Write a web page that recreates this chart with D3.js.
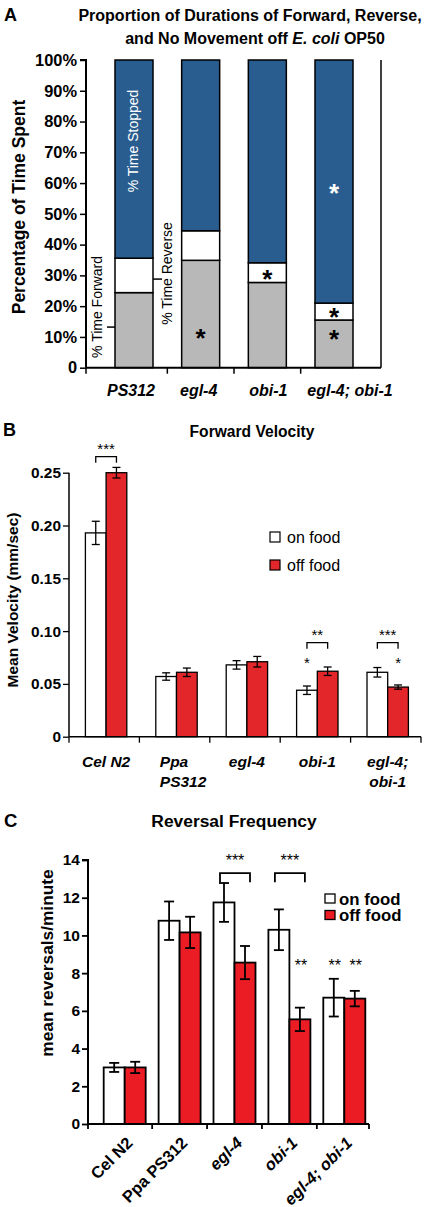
<!DOCTYPE html>
<html><head><meta charset="utf-8">
<script src="https://cdn.jsdelivr.net/npm/d3@7"></script>
<style>body{margin:0;background:#fff} svg{display:block} text{font-family:"Liberation Sans",Arial,sans-serif}</style>
</head><body><svg id="c" width="428" height="1207"></svg>
<script>
// ---------- Panel A data ----------
const strainsA = ["PS312", "egl-4", "obi-1", "egl-4; obi-1"];
const forwardPct = [24.4, 34.9, 27.7, 15.5];
const reversePct = [11.2, 9.6, 6.4, 5.5];
const stoppedPct = [64.4, 55.5, 65.9, 79.0];
const ticksA = [0, 10, 20, 30, 40, 50, 60, 70, 80, 90, 100];
const sigA = [
  {strain: "egl-4", pct: 11.7, light: false},
  {strain: "obi-1", pct: 30.9, light: false},
  {strain: "egl-4; obi-1", pct: 18.4, light: false},
  {strain: "egl-4; obi-1", pct: 11.2, light: false},
  {strain: "egl-4; obi-1", pct: 58.8, light: true}
];

// ---------- Panel B data ----------
const strainsB = ["Cel N2", "Ppa PS312", "egl-4", "obi-1", "egl-4; obi-1"];
const labelLinesB = [["Cel N2"], ["Ppa", "PS312"], ["egl-4"], ["obi-1"], ["egl-4;", "obi-1"]];
const velOn = [0.193, 0.057, 0.068, 0.044, 0.061];
const velOnErr = [0.011, 0.0035, 0.004, 0.004, 0.0045];
const velOff = [0.250, 0.061, 0.071, 0.062, 0.047];
const velOffErr = [0.005, 0.004, 0.005, 0.004, 0.002];
const ticksB = [0, 0.05, 0.10, 0.15, 0.20, 0.25];
const tickLabelsB = ["0", "0.05", "0.10", "0.15", "0.20", "0.25"];
const bracketsB = [
  {strain: "Cel N2", y: 0.2652, label: "***"},
  {strain: "obi-1", y: 0.089, label: "**"},
  {strain: "egl-4; obi-1", y: 0.089, label: "***"}
];
const starsB = [
  {strain: "obi-1", cond: "on", y: 0.0736, label: "*"},
  {strain: "egl-4; obi-1", cond: "off", y: 0.0736, label: "*"}
];

// ---------- Panel C data ----------
const strainsC = ["Cel N2", "Ppa PS312", "egl-4", "obi-1", "egl-4; obi-1"];
const italicC = [false, false, true, true, true];
const revOn = [3.0, 10.78, 11.75, 10.3, 6.7];
const revOnErr = [0.24, 1.02, 1.03, 1.08, 1.0];
const revOff = [3.0, 10.16, 8.56, 5.55, 6.65];
const revOffErr = [0.3, 0.83, 0.88, 0.62, 0.41];
const ticksC = [0, 2, 4, 6, 8, 10, 12, 14];
const bracketsC = [
  {strain: "egl-4", y: 13.3, label: "***"},
  {strain: "obi-1", y: 13.3, label: "***"}
];
const starsC = [
  {strain: "obi-1", cond: "off", y: 8.6, label: "**"},
  {strain: "egl-4; obi-1", cond: "on", y: 8.6, label: "**"},
  {strain: "egl-4; obi-1", cond: "off", y: 8.6, label: "**"}
];
const conds = ["on", "off"];
const condLabels = ["on food", "off food"];

const RED = "#e3262a", BLUE = "#2a5d8f", GRAY = "#b8b8b8";
const svg = d3.select("#c");

function stars(g, x, yc, txt, fs, color, weight) {
  g.append("text").attr("x", x).attr("y", yc + fs * 0.58)
    .attr("text-anchor", "middle").attr("font-size", fs)
    .attr("font-weight", weight || "normal").attr("fill", color || "#000").text(txt);
}
function rotText(g, x, y, txt, fs, opts) {
  return g.append("text").attr("transform", `translate(${x},${y}) rotate(-90)`)
    .attr("text-anchor", "middle").attr("dy", "0.35em").attr("font-size", fs)
    .attr("font-weight", opts.weight || "normal").attr("fill", opts.fill || "#000").text(txt);
}

// =================== PANEL A ===================
(function(){
  const g = svg.append("g");
  const left = 86, right = 381, top = 60, bottom = 367.7;
  const y = d3.scaleLinear().domain([0, 100]).range([bottom, top]);
  const x = d3.scalePoint().domain(strainsA).range([134, 334]);
  const bw = 38;

  g.append("text").attr("x", 4).attr("y", 21).attr("font-size", 18).attr("font-weight", "bold").text("A");
  const tt = g.append("text").attr("text-anchor", "middle").attr("font-size", 16).attr("font-weight", "bold");
  tt.append("tspan").attr("x", 250).attr("y", 21).text("Proportion of Durations of Forward, Reverse,");
  const l2 = tt.append("tspan").attr("x", 255).attr("y", 44);
  l2.append("tspan").text("and No Movement off ");
  l2.append("tspan").attr("font-style", "italic").text("E. coli");
  l2.append("tspan").text(" OP50");

  const rows = strainsA.map((s, i) => ({s, f: forwardPct[i], r: reversePct[i], st: stoppedPct[i]}));
  const bars = g.selectAll("g.bar").data(rows).join("g");
  bars.append("rect").attr("x", d => x(d.s) - bw/2).attr("width", bw)
    .attr("y", d => y(d.f)).attr("height", d => y(0) - y(d.f))
    .attr("fill", GRAY).attr("stroke", "#000").attr("stroke-width", 1.5);
  bars.append("rect").attr("x", d => x(d.s) - bw/2).attr("width", bw)
    .attr("y", d => y(d.f + d.r)).attr("height", d => y(d.f) - y(d.f + d.r))
    .attr("fill", "#fff").attr("stroke", "#000").attr("stroke-width", 1.5);
  bars.append("rect").attr("x", d => x(d.s) - bw/2).attr("width", bw)
    .attr("y", d => y(d.f + d.r + d.st)).attr("height", d => y(d.f + d.r) - y(d.f + d.r + d.st))
    .attr("fill", BLUE).attr("stroke", "#000").attr("stroke-width", 1.5);

  const ax = g.append("g").attr("transform", `translate(${left},0)`)
    .call(d3.axisLeft(y).tickValues(ticksA).tickSize(6).tickPadding(3).tickFormat(d => d === 0 ? "0" : d + "%"));
  ax.select(".domain").attr("stroke-width", 2).attr("d", `M-6,${top}H0V${bottom}`);
  ax.selectAll(".tick line").attr("stroke-width", 1.5);
  ax.selectAll("text").attr("font-size", 16.4).attr("font-weight", "bold").attr("font-family", "Liberation Sans, Arial, sans-serif");

  g.append("line").attr("x1", left).attr("x2", right).attr("y1", bottom).attr("y2", bottom).attr("stroke", "#000").attr("stroke-width", 2);
  g.append("line").attr("x1", right).attr("x2", right).attr("y1", top).attr("y2", bottom).attr("stroke", "#000").attr("stroke-width", 1.5);
  const tx = [left].concat(strainsA.slice(0, -1).map((s, i) => (x(s) + x(strainsA[i+1])) / 2));
  g.selectAll("line.xt").data(tx).join("line").attr("x1", d => d).attr("x2", d => d)
    .attr("y1", bottom).attr("y2", bottom + 6).attr("stroke", "#000").attr("stroke-width", 1.5);
  const labOff = [-3, -2, 1, 16];
  g.selectAll("text.cat").data(strainsA).join("text").attr("x", (d, i) => x(d) + labOff[i]).attr("y", 396)
    .attr("text-anchor", "middle").attr("font-size", 16).attr("font-weight", "bold").attr("font-style", "italic").text(d => d);

  rotText(g, 19, 207, "Percentage of Time Spent", 17.5, {weight: "bold"});

  rotText(g, x(strainsA[0]) - 1, 141, "% Time Stopped", 14, {fill: "#fff"});
  rotText(g, 97.5, 307, "% Time Forward", 14, {});
  rotText(g, 167.5, 273.5, "% Time Reverse", 14, {});
  g.append("line").attr("x1", x(strainsA[0]) - bw/2 - 8).attr("x2", x(strainsA[0]) - bw/2)
    .attr("y1", y(13.2)).attr("y2", y(13.2)).attr("stroke", "#000").attr("stroke-width", 1.5);
  g.append("line").attr("x1", x(strainsA[0]) + bw/2).attr("x2", x(strainsA[0]) + bw/2 + 9)
    .attr("y1", y(28.8)).attr("y2", y(28.8)).attr("stroke", "#000").attr("stroke-width", 1.5);

  sigA.forEach(s => stars(g, x(s.strain), y(s.pct), "*", 26, s.light ? "#fff" : "#000", "bold"));
})();

function errBars(g, x, xs, y, vals, errs, cond, strains, capW, sw) {
  strains.forEach((s, i) => {
    const cx = x(s) + xs(cond) + xs.bandwidth() / 2;
    const y1 = y(vals[i] + errs[i]), y2 = y(vals[i] - errs[i]);
    g.append("line").attr("x1", cx).attr("x2", cx).attr("y1", y1).attr("y2", y2).attr("stroke", "#000").attr("stroke-width", sw);
    [y1, y2].forEach(yy => g.append("line").attr("x1", cx - capW/2).attr("x2", cx + capW/2)
      .attr("y1", yy).attr("y2", yy).attr("stroke", "#000").attr("stroke-width", sw));
  });
}

// =================== PANEL B ===================
(function(){
  const g = svg.append("g");
  const left = 69, right = 421, top = 472.7, bottom = 736.7;
  const y = d3.scaleLinear().domain([0, 0.25]).range([bottom, top]);
  const x = d3.scaleBand().domain(strainsB).range([left, right]);
  const xs = d3.scaleBand().domain(conds).range([16.4, 57.8]);

  g.append("text").attr("x", 3).attr("y", 436).attr("font-size", 18).attr("font-weight", "bold").text("B");
  g.append("text").attr("x", 252).attr("y", 436.5).attr("text-anchor", "middle").attr("font-size", 15.6).attr("font-weight", "bold").text("Forward Velocity");

  const rows = strainsB.map((s, i) => ({s, on: velOn[i], off: velOff[i]}));
  conds.forEach(c => {
    g.selectAll(null).data(rows).join("rect")
      .attr("x", d => x(d.s) + xs(c)).attr("width", xs.bandwidth())
      .attr("y", d => y(d[c])).attr("height", d => y(0) - y(d[c]))
      .attr("fill", c === "on" ? "#fff" : RED).attr("stroke", "#000").attr("stroke-width", 1.3);
  });
  errBars(g, x, xs, y, velOn, velOnErr, "on", strainsB, 8, 1.3);
  errBars(g, x, xs, y, velOff, velOffErr, "off", strainsB, 8, 1.3);

  const ax = g.append("g").attr("transform", `translate(${left},0)`)
    .call(d3.axisLeft(y).tickValues(ticksB).tickSize(6).tickPadding(2).tickFormat((d, i) => tickLabelsB[i]));
  ax.select(".domain").attr("stroke-width", 1.5).attr("d", `M0,${top}V${bottom}`);
  ax.selectAll(".tick line").attr("stroke-width", 1.3);
  ax.selectAll("text").attr("font-size", 15.4).attr("font-weight", "bold").attr("font-family", "Liberation Sans, Arial, sans-serif");

  g.append("line").attr("x1", left).attr("x2", right).attr("y1", bottom).attr("y2", bottom).attr("stroke", "#000").attr("stroke-width", 1.5);
  const tx = strainsB.map(s => x(s)).concat([right]);
  g.selectAll("line.xt").data(tx).join("line").attr("x1", d => d).attr("x2", d => d)
    .attr("y1", bottom).attr("y2", bottom + 6).attr("stroke", "#000").attr("stroke-width", 1.3);

  strainsB.forEach((s, i) => {
    const pc = x(s) + (xs.range()[0] + xs.range()[1]) / 2;
    const startAnchored = s === "Ppa PS312";
    labelLinesB[i].forEach((ln, j) => {
      g.append("text").attr("x", startAnchored ? x(s) + xs.range()[0] + 4 : pc).attr("y", 767 + j * 20)
        .attr("text-anchor", startAnchored ? "start" : "middle")
        .attr("font-size", 15.5).attr("font-weight", "bold").attr("font-style", "italic").text(ln);
    });
  });

  rotText(g, 12.5, 600, "Mean Velocity (mm/sec)", 15.5, {weight: "bold"});

  conds.forEach((c, i) => {
    g.append("rect").attr("x", 270).attr("y", 532 + i * 28).attr("width", 10).attr("height", 10)
      .attr("fill", c === "on" ? "#fff" : RED).attr("stroke", "#000").attr("stroke-width", 1.2);
    g.append("text").attr("x", 287).attr("y", 542.5 + i * 28).attr("font-size", 16).text(condLabels[i]);
  });

  bracketsB.forEach(b => {
    const x1 = x(b.strain) + xs("on") + xs.bandwidth()/2, x2 = x(b.strain) + xs("off") + xs.bandwidth()/2;
    const yy = y(b.y);
    g.append("path").attr("d", `M${x1},${yy + 6}V${yy}H${x2}V${yy + 6}`).attr("fill", "none").attr("stroke", "#000").attr("stroke-width", 1.3);
    stars(g, (x1 + x2) / 2, yy - 11, b.label, 15, "#000");
  });
  starsB.forEach(s => stars(g, x(s.strain) + xs(s.cond) + xs.bandwidth()/2, y(s.y), s.label, 15, "#000"));
})();

// =================== PANEL C ===================
(function(){
  const g = svg.append("g");
  const left = 88, top = 860, bottom = 1124;
  const y = d3.scaleLinear().domain([0, 14]).range([bottom, top]);
  const x = d3.scaleBand().domain(strainsC).range([97.25, 371.75]);
  const pad = (x.bandwidth() - 42) / 2;
  const xs = d3.scaleBand().domain(conds).range([pad, pad + 42]);
  const right = 369;

  g.append("text").attr("x", 4).attr("y", 827).attr("font-size", 18.5).attr("font-weight", "bold").text("C");
  g.append("text").attr("x", 234).attr("y", 826.5).attr("text-anchor", "middle").attr("font-size", 17.4).attr("font-weight", "bold").text("Reversal Frequency");

  const rows = strainsC.map((s, i) => ({s, on: revOn[i], off: revOff[i]}));
  conds.forEach(c => {
    g.selectAll(null).data(rows).join("rect")
      .attr("x", d => x(d.s) + xs(c)).attr("width", xs.bandwidth())
      .attr("y", d => y(d[c])).attr("height", d => y(0) - y(d[c]))
      .attr("fill", c === "on" ? "#fff" : "#ec1c24").attr("stroke", "#000").attr("stroke-width", 1.8);
  });
  errBars(g, x, xs, y, revOn, revOnErr, "on", strainsC, 10, 1.8);
  errBars(g, x, xs, y, revOff, revOffErr, "off", strainsC, 10, 1.8);

  const ax = g.append("g").attr("transform", `translate(${left},0)`)
    .call(d3.axisLeft(y).tickValues(ticksC).tickSize(6).tickPadding(2));
  ax.select(".domain").attr("stroke-width", 2).attr("d", `M-6,${top}H0V${bottom}`);
  ax.selectAll(".tick line").attr("stroke-width", 1.8);
  ax.selectAll("text").attr("font-size", 15.5).attr("font-weight", "bold").attr("font-family", "Liberation Sans, Arial, sans-serif");

  g.append("line").attr("x1", left).attr("x2", right).attr("y1", bottom).attr("y2", bottom).attr("stroke", "#000").attr("stroke-width", 2);
  const tx = [left].concat(strainsC.slice(1).map(s => x(s))).concat([right]);
  g.selectAll("line.xt").data(tx).join("line").attr("x1", d => d).attr("x2", d => d)
    .attr("y1", bottom).attr("y2", bottom + 5).attr("stroke", "#000").attr("stroke-width", 1.8);

  strainsC.forEach((s, i) => {
    const pc = x(s) + xs.range()[0] + 21;
    g.append("text").attr("transform", `translate(${pc + 9},${1144}) rotate(-45)`)
      .attr("text-anchor", "end").attr("font-size", 16.5).attr("font-weight", "bold")
      .attr("font-style", italicC[i] ? "italic" : "normal").text(s);
  });

  rotText(g, 46.7, 963, "mean reversals/minute", 17.3, {weight: "bold"});

  conds.forEach((c, i) => {
    g.append("rect").attr("x", 325).attr("y", 894 + i * 16.5).attr("width", 10).attr("height", 9)
      .attr("fill", c === "on" ? "#fff" : "#ec1c24").attr("stroke", "#000").attr("stroke-width", 1.3);
    g.append("text").attr("x", 339).attr("y", 904.5 + i * 16.5).attr("font-size", 16.8).attr("font-weight", "bold").text(condLabels[i]);
  });

  bracketsC.forEach(b => {
    const x1 = x(b.strain) + xs("on") + xs.bandwidth()/2 - 4, x2 = x(b.strain) + xs("off") + xs.bandwidth()/2 + 5;
    const yy = y(b.y);
    g.append("path").attr("d", `M${x1},${yy + 9}V${yy}H${x2}V${yy + 9}`).attr("fill", "none").attr("stroke", "#000").attr("stroke-width", 1.8);
    stars(g, (x1 + x2) / 2, yy - 16.6, b.label, 16, "#000");
  });
  starsC.forEach(s => stars(g, x(s.strain) + xs(s.cond) + xs.bandwidth()/2 + 1, y(s.y), s.label, 16, "#000"));
})();
</script></body></html>
